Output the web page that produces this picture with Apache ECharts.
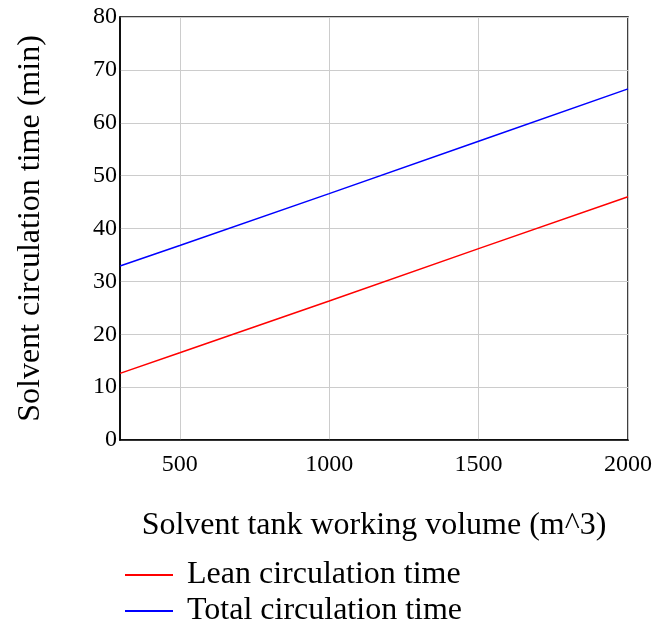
<!DOCTYPE html>
<html>
<head>
<meta charset="utf-8">
<script src="https://cdn.jsdelivr.net/npm/echarts@6/dist/echarts.min.js"></script>
<style>html,body{margin:0;padding:0;background:#fff}#c{width:659px;height:628px}</style>
</head>
<body>
<div id="c"></div>
<script>
const volumes = [300, 500, 1000, 1500, 2000];
const leanTime = [12.6, 16.5, 26.3, 36.2, 46.0];
const totalTime = [32.9, 36.8, 46.6, 56.5, 66.4];
const xTicks = [500, 1000, 1500, 2000];
const seriesNames = ['Lean circulation time', 'Total circulation time'];
const xTitle = 'Solvent tank working volume (m^3)';
const yTitle = 'Solvent circulation time (min)';

const font = 'Liberation Serif, Times New Roman, serif';
const chart = echarts.init(document.getElementById('c'), null, {renderer: 'canvas'});
chart.setOption({
  animation: false,
  backgroundColor: '#fff',
  textStyle: {fontFamily: font, color: '#000'},
  grid: {left: 120, right: 31, top: 17, bottom: 188, show: true, borderColor: '#000', borderWidth: 1.5, backgroundColor: 'transparent'},
  legend: {
    orient: 'vertical', left: 125, top: 559, padding: 0, itemWidth: 48, itemHeight: 2, itemGap: 4,
    height: 69,
    icon: 'rect',
    textStyle: {fontFamily: font, fontSize: 32, color: '#000', lineHeight: 32, padding: [0,0,0,9]},
    data: seriesNames
  },
  xAxis: {
    type: 'value', min: 300, max: 2000,
    name: xTitle, nameLocation: 'middle', nameGap: 70,
    nameTextStyle: {fontFamily: font, fontSize: 32, color: '#000'},
    axisLine: {show: true, lineStyle: {color: '#000', width: 1.5}},
    axisTick: {show: false, customValues: xTicks},
    axisLabel: {fontFamily: font, fontSize: 24, color: '#000', margin: 13,
      customValues: xTicks, formatter: v => String(v)},
    splitLine: {show: true, lineStyle: {color: '#cccccc', width: 1}}
  },
  yAxis: {
    type: 'value', min: 0, max: 80, interval: 10,
    name: yTitle, nameLocation: 'middle', nameGap: 73,
    nameTextStyle: {fontFamily: font, fontSize: 32, color: '#000'},
    axisLine: {show: true, lineStyle: {color: '#000', width: 1.5}},
    axisTick: {show: false},
    axisLabel: {fontFamily: font, fontSize: 24, color: '#000', margin: 3},
    splitLine: {show: true, lineStyle: {color: '#cccccc', width: 1}}
  },
  series: [
    {name: seriesNames[0], type: 'line', symbol: 'none', data: volumes.map((v, i) => [v, leanTime[i]]),
     lineStyle: {color: '#ff0000', width: 1.5}, itemStyle: {color: '#ff0000'}},
    {name: seriesNames[1], type: 'line', symbol: 'none', data: volumes.map((v, i) => [v, totalTime[i]]),
     lineStyle: {color: '#0000ff', width: 1.5}, itemStyle: {color: '#0000ff'}}
  ]
});
</script>
</body>
</html>
